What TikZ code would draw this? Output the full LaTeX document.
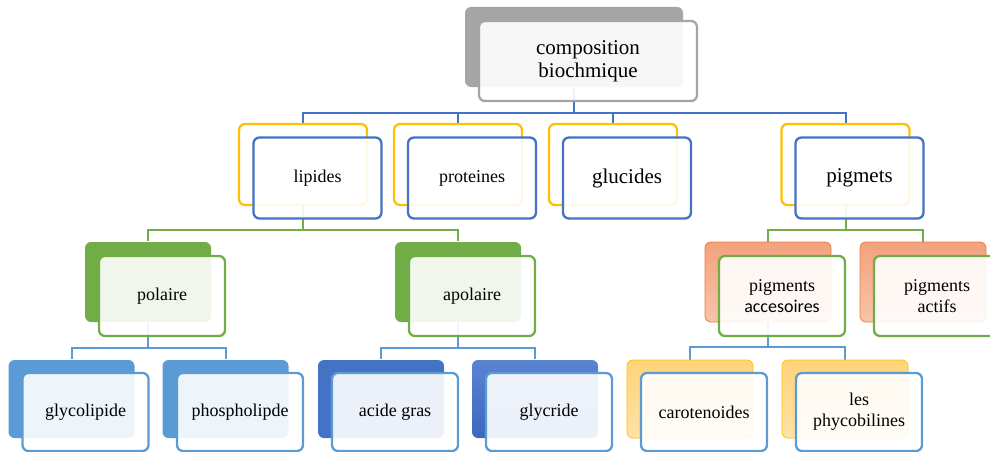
\documentclass[tikz,border=0pt]{standalone}
\usepackage{fontspec}
\setmainfont{Liberation Serif}
\newfontfamily\carl{Carlito}
\definecolor{cblue}{HTML}{4472C4}
\definecolor{lblue}{HTML}{5B9BD5}
\definecolor{cgreen}{HTML}{70AD47}
\definecolor{cgray}{HTML}{A5A5A5}
\definecolor{cyel}{HTML}{FFC000}
\definecolor{corange}{HTML}{ED7D31}
\definecolor{salTop}{HTML}{F3A27E}
\definecolor{salBot}{HTML}{F7C4A8}
\definecolor{yelTop}{HTML}{FFD37A}
\definecolor{yelBot}{HTML}{FFE2A6}
\definecolor{gbTop}{HTML}{5A84D2}
\definecolor{gbBot}{HTML}{3C68BE}
\pgfdeclarelayer{background}
\pgfsetlayers{background,main}
\begin{document}
\begin{tikzpicture}[x=1pt,y=-1pt,
  box/.style={rounded corners=6pt, inner sep=2pt, align=center, line width=2.3pt, font=\rmfamily\fontsize{18}{21}\selectfont},
  big/.style={font=\rmfamily\fontsize{21}{23}\selectfont},
  s1/.style={box, minimum width=218pt, minimum height=80pt},
  s2/.style={box, minimum width=128pt, minimum height=81pt},
  s3/.style={box, minimum width=126pt, minimum height=80pt},
  s4/.style={box, minimum width=126pt, minimum height=78pt},
  front/.style={fill=white, fill opacity=0.9, text opacity=1},
  conn/.style={line width=2pt}]
\useasboundingbox (0,0) rectangle (990,452);
% level 1
\node[s1, fill=cgray] (bTop) at (574,47) {};
\node[s1, front, draw=cgray, big] (fTop) at (588,61) {composition\\biochmique};
% level 2
\node[s2, draw=cyel, fill=white] (bLip) at (303,164.5) {};
\node[s2, front, draw=cblue] (fLip) at (317.5,178) {lipides};
\node[s2, draw=cyel, fill=white] (bPro) at (458,164.5) {};
\node[s2, front, draw=cblue] (fPro) at (472,178) {proteines};
\node[s2, draw=cyel, fill=white] (bGlu) at (613,164.5) {};
\node[s2, front, draw=cblue, big] (fGlu) at (627,178) {glucides};
\node[s2, draw=cyel, fill=white] (bPig) at (845.5,164.5) {};
\node[s2, front, draw=cblue, big] (fPig) at (859.5,178) {pigmets};
% level 3
\node[s3, fill=cgreen] (bPol) at (148,282) {};
\node[s3, front, draw=cgreen] (fPol) at (162,296) {polaire};
\node[s3, fill=cgreen] (bApo) at (458,282) {};
\node[s3, front, draw=cgreen] (fApo) at (472,296) {apolaire};
\node[s3, draw=corange, line width=0.8pt, top color=salTop, bottom color=salBot] (bAcc) at (768,282) {};
\node[s3, front, draw=cgreen] (fAcc) at (782,296) {pigments\\\carl accesoires};
\node[s3, draw=corange, line width=0.8pt, top color=salTop, bottom color=salBot] (bAct) at (923,282) {};
\node[s3, front, draw=cgreen] (fAct) at (937,296) {pigments\\actifs};
% level 4
\node[s4, fill=lblue] (bGlyco) at (71.5,399) {};
\node[s4, front, draw=lblue] (fGlyco) at (85.5,412) {glycolipide};
\node[s4, fill=lblue] (bPhos) at (225.5,399) {};
\node[s4, front, draw=lblue] (fPhos) at (240,412) {phospholipde};
\node[s4, fill=cblue] (bAcide) at (381,399) {};
\node[s4, front, draw=lblue] (fAcide) at (395,412) {acide gras};
\node[s4, top color=gbTop, bottom color=gbBot] (bGlyc) at (535,399) {};
\node[s4, front, draw=lblue] (fGlyc) at (549,412) {glycride};
\node[s4, draw=cyel, line width=0.8pt, top color=yelTop, bottom color=yelBot] (bCar) at (690,399) {};
\node[s4, front, draw=lblue] (fCar) at (704,412) {carotenoides};
\node[s4, draw=cyel, line width=0.8pt, top color=yelTop, bottom color=yelBot] (bPhy) at (845,399) {};
\node[s4, front, draw=lblue] (fPhy) at (859,412) {les\\phycobilines};
\begin{pgfonlayer}{background}
\draw[conn, cblue] (bTop.south) -- ++(0,25) coordinate (bus1);
\foreach \c in {bLip,bPro,bGlu,bPig} \draw[conn, cblue] (bus1) -| (\c.north);
\draw[conn, cgreen] (bLip.south) -- ++(0,24) coordinate (bus2);
\foreach \c in {bPol,bApo} \draw[conn, cgreen] (bus2) -| (\c.north);
\draw[conn, cgreen] (bPig.south) -- ++(0,24) coordinate (bus3);
\foreach \c in {bAcc,bAct} \draw[conn, cgreen] (bus3) -| (\c.north);
\draw[conn, lblue] (bPol.south) -- ++(0,25) coordinate (bus4);
\foreach \c in {bGlyco,bPhos} \draw[conn, lblue] (bus4) -| (\c.north);
\draw[conn, lblue] (bApo.south) -- ++(0,25) coordinate (bus5);
\foreach \c in {bAcide,bGlyc} \draw[conn, lblue] (bus5) -| (\c.north);
\draw[conn, lblue] (bAcc.south) -- ++(0,25) coordinate (bus6);
\foreach \c in {bCar,bPhy} \draw[conn, lblue] (bus6) -| (\c.north);
\end{pgfonlayer}
\end{tikzpicture}
\end{document}
